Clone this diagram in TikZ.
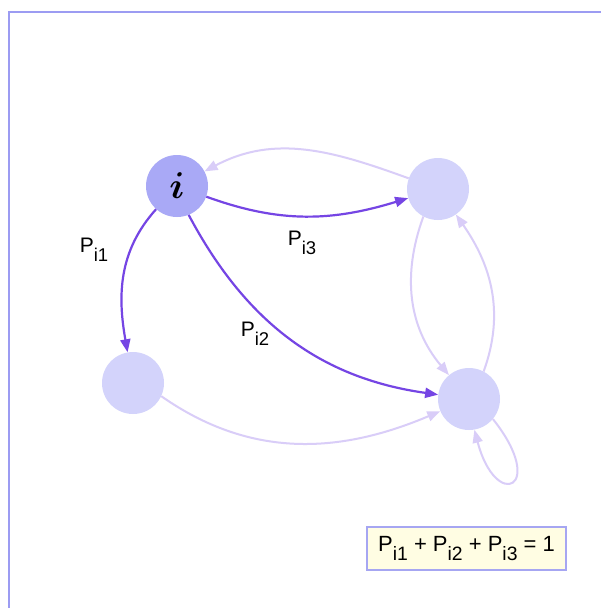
\documentclass[tikz,border=0pt]{standalone}
\usepackage{fontspec}
\usepackage{bm}
\usepackage{graphicx}
\setmainfont{Liberation Sans}
\usetikzlibrary{arrows.meta}
\definecolor{frameC}{HTML}{9C9CF2}
\definecolor{nodeI}{HTML}{A9A9F6}
\definecolor{nodeO}{HTML}{D3D3FB}
\definecolor{edgeD}{HTML}{7545E4}
\definecolor{edgeL}{HTML}{D9CDF8}
\definecolor{boxfill}{HTML}{FFFDE3}
\definecolor{boxline}{HTML}{A6A6F2}
\newcommand\Psub[1]{P\raisebox{-0.45em}{\fontsize{0.88em}{1em}\selectfont #1}}
\begin{document}
\begin{tikzpicture}[x=1pt,y=-1pt,
  state/.style={circle,minimum size=62pt,inner sep=0pt,draw=none},
  dark/.style={draw=edgeD,line width=2.2pt,-{Triangle[length=13pt,width=10pt]}},
  light/.style={draw=edgeL,line width=2pt,-{Triangle[length=13pt,width=10pt]}},
  lab/.style={font=\fontsize{21}{24}\selectfont,inner sep=0pt}]
\useasboundingbox (0,0) rectangle (601,608);
\fill[white] (0,0) rectangle (601,608);
\draw[frameC,line width=2pt] (9,608) -- (9,12) -- (601,12);

\node[state,fill=nodeI] (I) at (177,186) {\fontsize{24.88}{26}\selectfont\scalebox{1.5}{$\bm{i}$}};
\node[state,fill=nodeO] (A3) at (438,189) {};
\node[state,fill=nodeO] (A1) at (133,383) {};
\node[state,fill=nodeO] (A2) at (469,399) {};

\draw[light] (A3.160) to[out=160,in=28] (I.28);
\draw[light] (A1.-25) to[out=-35,in=203] (A2.203);
\draw[light] (A3.-118) to[out=-110,in=130] (A2.130);
\draw[light] (A2.62) to[out=70,in=-55] (A3.-55);
\coordinate (L1) at (548,488);
\coordinate (L2) at (496,512);
\draw[light] (A2.-40) .. controls (L1) and (L2) .. (A2.-80);

\draw[dark] (I.-20) to[out=-20,in=197] (A3.197);
\draw[dark] (I.228) to[out=228,in=100] (A1.100);
\draw[dark] (I.-68) to[out=-62,in=172] (A2.172);

\node[lab] (p1) at (94,250) {\Psub{i1}};
\node[lab] (p3) at (302,243) {\Psub{i3}};
\node[lab] (p2) at (255,334) {\Psub{i2}};

\node[draw=boxline,fill=boxfill,line width=2pt,minimum width=199pt,minimum height=43pt,inner sep=0pt,font=\fontsize{22}{25}\selectfont] (eq) at (466.5,548.5) {\Psub{i1} + \Psub{i2} + \Psub{i3} = 1};
\end{tikzpicture}
\end{document}
